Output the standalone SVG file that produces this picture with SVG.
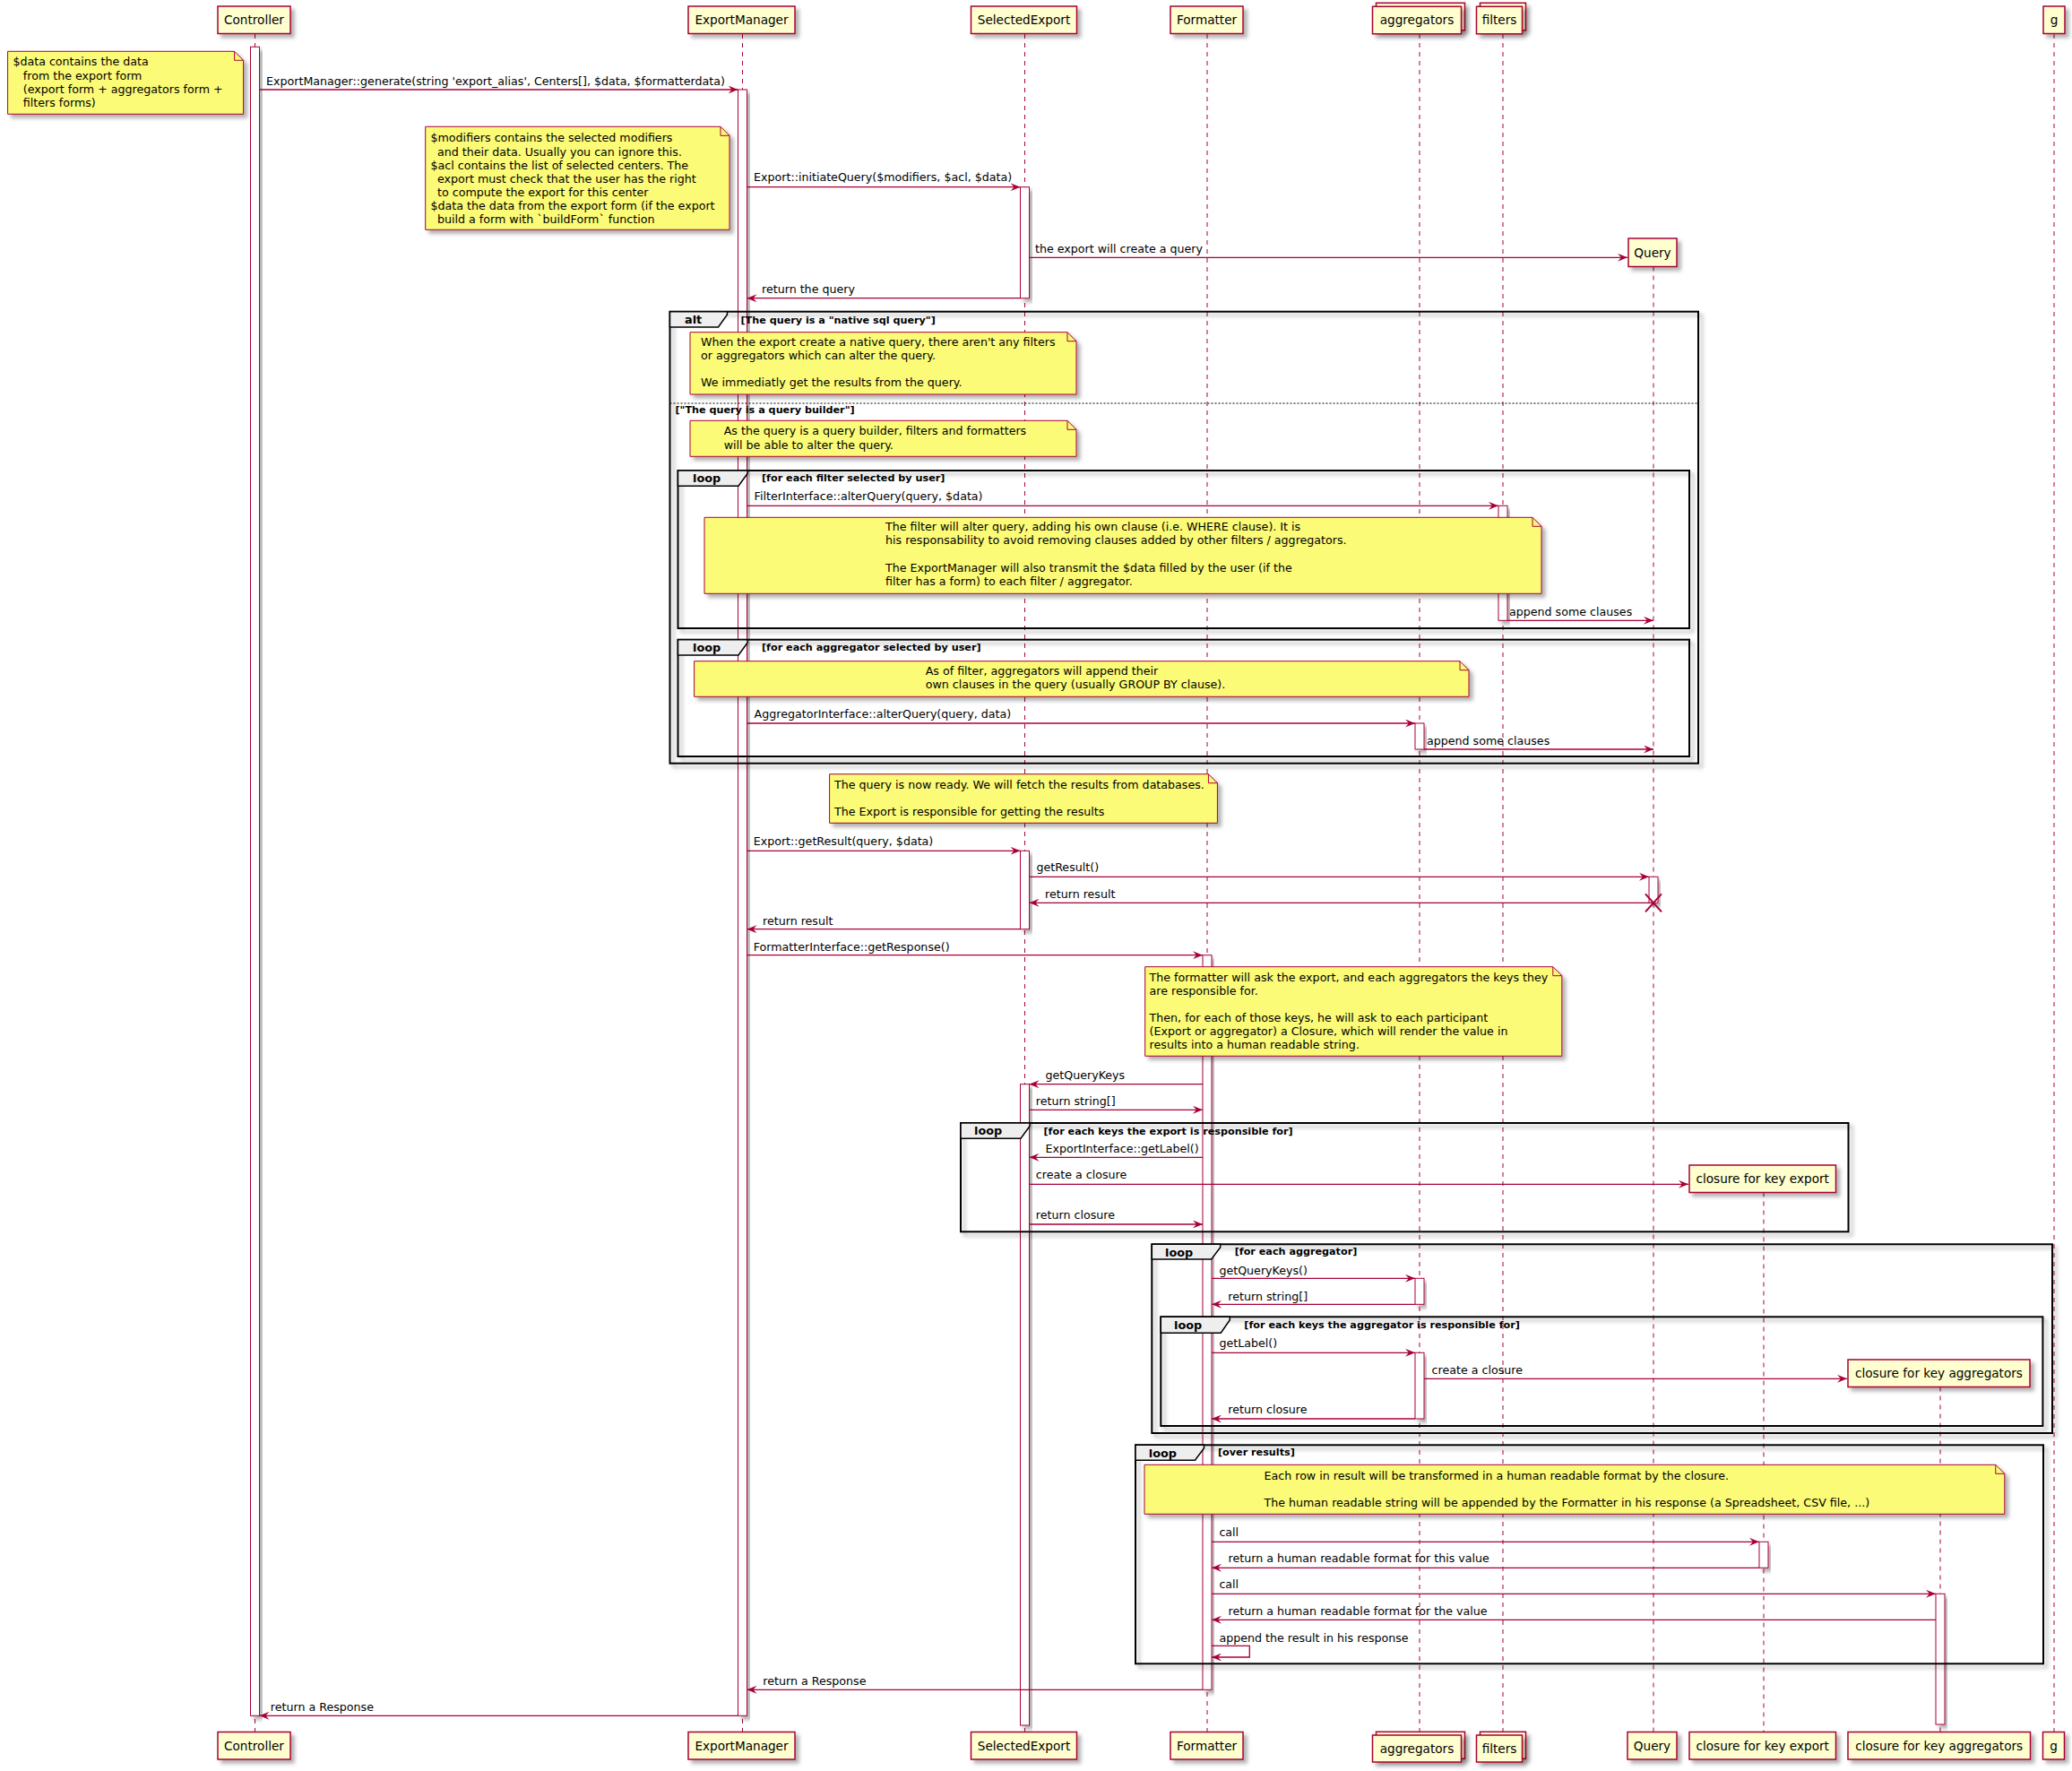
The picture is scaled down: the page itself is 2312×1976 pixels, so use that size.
<svg xmlns="http://www.w3.org/2000/svg" width="2312" height="1976" viewBox="0 0 2312 1976">
<defs>
<filter id="sh" x="-20%" y="-20%" width="150%" height="150%">
<feDropShadow dx="4" dy="4" stdDeviation="2" flood-color="#000" flood-opacity="0.3"/>
</filter>
<marker id="ah" viewBox="0 0 11 9" refX="11" refY="4.5" markerWidth="11" markerHeight="9" markerUnits="userSpaceOnUse" orient="auto">
<path d="M0,0 L11,4.5 L0,9 L4,4.5 Z" fill="#A80036"/>
</marker>
<style>
text{font-family:"DejaVu Sans","Liberation Sans",sans-serif;fill:#000}
.p{fill:#FEFECE;stroke:#A80036;stroke-width:1.5;filter:url(#sh)}
.pt{font-size:13.6px;text-anchor:middle}
.ll{stroke:#A80036;stroke-width:1;stroke-dasharray:5,5;fill:none}
.act{fill:#fff;stroke:#A80036;stroke-width:1;filter:url(#sh)}
.note{fill:#FBFB77;stroke:#A80036;stroke-width:1;filter:url(#sh)}
.fold{fill:none;stroke:#A80036;stroke-width:1}
.nt{font-size:12.65px}
.msg{stroke:#A80036;stroke-width:1.3;fill:none;marker-end:url(#ah)}
.mt{font-size:12.65px}
.fr{fill:none;stroke:#000;stroke-width:2;filter:url(#sh)}
.tab{fill:#EEEEEE;stroke:#000;stroke-width:1.5}
.ft{font-size:12.8px;font-weight:bold}
.ct{font-size:11.2px;font-weight:bold}
.sep{stroke:#000;stroke-width:1;stroke-dasharray:2,2}
</style>
</defs>
<rect width="2312" height="1976" fill="#fff"/>

<!-- participants -->
<g id="p-controller">
<line class="ll" x1="284.5" y1="38" x2="284.5" y2="1932"/>
<rect class="p" x="243" y="7" width="81" height="30.5"/>
<text class="pt" x="283.5" y="27">Controller</text>
<rect class="p" x="243" y="1932.5" width="81" height="30.5"/>
<text class="pt" x="283.5" y="1952.5">Controller</text>
<rect class="act" x="279.5" y="52.3" width="10" height="1862"/>
</g>
<g id="p-exportmanager">
<line class="ll" x1="828.5" y1="38" x2="828.5" y2="1932"/>
<rect class="p" x="768" y="7" width="119" height="30.5"/>
<text class="pt" x="827.5" y="27">ExportManager</text>
<rect class="p" x="768" y="1932.5" width="119" height="30.5"/>
<text class="pt" x="827.5" y="1952.5">ExportManager</text>
<rect class="act" x="823.5" y="100" width="10" height="1814.3"/>
</g>
<g id="p-selectedexport">
<line class="ll" x1="1143.5" y1="38" x2="1143.5" y2="1932"/>
<rect class="p" x="1083.5" y="7" width="118" height="30.5"/>
<text class="pt" x="1142.5" y="27">SelectedExport</text>
<rect class="p" x="1083.5" y="1932.5" width="118" height="30.5"/>
<text class="pt" x="1142.5" y="1952.5">SelectedExport</text>
<rect class="act" x="1138.5" y="208.7" width="10" height="124"/>
<rect class="act" x="1138.5" y="949.3" width="10" height="87.4"/>
<rect class="act" x="1138.5" y="1209.7" width="10" height="715.3"/>
</g>
<g id="p-formatter">
<line class="ll" x1="1347" y1="38" x2="1347" y2="1932"/>
<rect class="p" x="1306" y="7" width="81" height="30.5"/>
<text class="pt" x="1346.5" y="27">Formatter</text>
<rect class="p" x="1306" y="1932.5" width="81" height="30.5"/>
<text class="pt" x="1346.5" y="1952.5">Formatter</text>
<rect class="act" x="1342" y="1065.7" width="10" height="819.6"/>
</g>
<g id="p-aggregators">
<line class="ll" x1="1584" y1="38" x2="1584" y2="1932"/>
<rect class="p" x="1535.5" y="3.3" width="99" height="30.5"/>
<rect class="p" x="1531.5" y="7.3" width="99" height="30.5"/>
<text class="pt" x="1581" y="27.3">aggregators</text>
<rect class="p" x="1535.5" y="1932.3" width="99" height="30"/>
<rect class="p" x="1531.5" y="1936" width="99" height="30"/>
<text class="pt" x="1581" y="1955.5">aggregators</text>
<rect class="act" x="1579" y="807" width="10" height="29"/>
<rect class="act" x="1579" y="1426.3" width="10" height="29"/>
<rect class="act" x="1579" y="1509.3" width="10" height="73.7"/>
</g>
<g id="p-filters">
<line class="ll" x1="1677" y1="38" x2="1677" y2="1932"/>
<rect class="p" x="1651.5" y="3.3" width="51" height="30.5"/>
<rect class="p" x="1647.5" y="7.3" width="51" height="30.5"/>
<text class="pt" x="1673" y="27.3">filters</text>
<rect class="p" x="1651.5" y="1932.3" width="51" height="30"/>
<rect class="p" x="1647.5" y="1936" width="51" height="30"/>
<text class="pt" x="1673" y="1955.5">filters</text>
<rect class="act" x="1672" y="564.3" width="10" height="128"/>
</g>
<g id="p-query">
<line class="ll" x1="1845" y1="297.5" x2="1845" y2="1932"/>
<rect class="p" x="1817" y="266" width="54" height="31.5"/>
<text class="pt" x="1844" y="286.5">Query</text>
<rect class="p" x="1816" y="1932.5" width="55" height="30.5"/>
<text class="pt" x="1843.5" y="1952.5">Query</text>
<rect class="act" x="1840" y="978.3" width="10" height="29"/>
<path d="M1836,997.3 L1854,1017.3 M1854,997.3 L1836,1017.3" stroke="#A80036" stroke-width="2" fill="none"/>
</g>
<g id="p-closure-export">
<line class="ll" x1="1968" y1="1330.5" x2="1968" y2="1932"/>
<rect class="p" x="1885" y="1300" width="163.5" height="30.5"/>
<text class="pt" x="1966.7" y="1320">closure for key export</text>
<rect class="p" x="1885" y="1932.5" width="163.5" height="30.5"/>
<text class="pt" x="1966.7" y="1952.5">closure for key export</text>
<rect class="act" x="1963" y="1720.3" width="10" height="29"/>
</g>
<g id="p-closure-aggregators">
<line class="ll" x1="2165" y1="1547.5" x2="2165" y2="1932"/>
<rect class="p" x="2062" y="1517" width="203" height="30.5"/>
<text class="pt" x="2163.5" y="1537">closure for key aggregators</text>
<rect class="p" x="2062" y="1932.5" width="203.5" height="30.5"/>
<text class="pt" x="2163.7" y="1952.5">closure for key aggregators</text>
<rect class="act" x="2160" y="1778.3" width="10" height="145.7"/>
</g>
<g id="p-g">
<line class="ll" x1="2292" y1="38" x2="2292" y2="1932"/>
<rect class="p" x="2280" y="7" width="24" height="30.5"/>
<text class="pt" x="2292" y="27">g</text>
<rect class="p" x="2279.5" y="1932.5" width="24" height="30.5"/>
<text class="pt" x="2291.5" y="1952.5">g</text>
</g>

<!-- frames -->
<g id="frame-alt">
<rect class="fr" x="747.5" y="347.7" width="1147.5" height="504"/>
<path class="tab" d="M747.5,347.7 H811.5 V351 L801.5,365 H747.5 Z"/>
<text class="ft" x="764" y="360.7">alt</text>
<text class="ct" x="826.5" y="361">[The query is a "native sql query"]</text>
<line class="sep" x1="747.5" y1="450" x2="1895" y2="450"/>
<text class="ct" x="753.5" y="460.7">["The query is a query builder"]</text>
</g>
<g id="frame-loop-filters">
<rect class="fr" x="756.5" y="525" width="1128.5" height="176"/>
<path class="tab" d="M756.5,525 H834 V528.5 L824,542.3 H756.5 Z"/>
<text class="ft" x="773" y="538.3">loop</text>
<text class="ct" x="850" y="537">[for each filter selected by user]</text>
</g>
<g id="frame-loop-aggregators">
<rect class="fr" x="756.5" y="713.7" width="1128.5" height="130.3"/>
<path class="tab" d="M756.5,713.7 H834 V717.2 L824,731 H756.5 Z"/>
<text class="ft" x="773" y="727">loop</text>
<text class="ct" x="850" y="726">[for each aggregator selected by user]</text>
</g>
<g id="frame-loop-export-keys">
<rect class="fr" x="1072" y="1253" width="990.5" height="121.3"/>
<path class="tab" d="M1072,1253 H1149 V1256.5 L1139,1270.3 H1072 Z"/>
<text class="ft" x="1087" y="1266.3">loop</text>
<text class="ct" x="1164.5" y="1265.7">[for each keys the export is responsible for]</text>
</g>
<g id="frame-loop-each-aggregator">
<rect class="fr" x="1285.3" y="1388.3" width="1004.7" height="210.7"/>
<path class="tab" d="M1285.3,1388.3 H1361.7 V1391.8 L1351.7,1405 H1285.3 Z"/>
<text class="ft" x="1300" y="1401.5">loop</text>
<text class="ct" x="1377.7" y="1400">[for each aggregator]</text>
</g>
<g id="frame-loop-agg-keys">
<rect class="fr" x="1295.3" y="1469.3" width="984.1" height="121.7"/>
<path class="tab" d="M1295.3,1469.3 H1372.3 V1472.8 L1362.3,1487.3 H1295.3 Z"/>
<text class="ft" x="1310" y="1482.8">loop</text>
<text class="ct" x="1388.3" y="1482.3">[for each keys the aggregator is responsible for]</text>
</g>
<g id="frame-loop-results">
<rect class="fr" x="1267" y="1612.3" width="1013" height="244"/>
<path class="tab" d="M1267,1612.3 H1343.5 V1615.8 L1333.5,1629.3 H1267 Z"/>
<text class="ft" x="1281.8" y="1625.6">loop</text>
<text class="ct" x="1359" y="1624.3">[over results]</text>
</g>

<!-- notes -->
<g id="note-data">
<path class="note" d="M8.6,57.3 H261.6 L271.6,67.3 V127.3 H8.6 Z"/>
<path class="fold" d="M261.6,57.3 V67.3 H271.6"/>
<text class="nt" x="14.4" y="73.3">$data contains the data</text>
<text class="nt" x="25.8" y="88.5">from the export form</text>
<text class="nt" x="25.8" y="103.8">(export form + aggregators form +</text>
<text class="nt" x="25.8" y="119">filters forms)</text>
</g>
<g id="note-modifiers">
<path class="note" d="M474.7,141.3 H804 L814,151.3 V256.3 H474.7 Z"/>
<path class="fold" d="M804,141.3 V151.3 H814"/>
<text class="nt" x="480.5" y="158.3">$modifiers contains the selected modifiers</text>
<text class="nt" x="488" y="173.5">and their data. Usually you can ignore this.</text>
<text class="nt" x="480.5" y="188.6">$acl contains the list of selected centers. The</text>
<text class="nt" x="488" y="203.8">export must check that the user has the right</text>
<text class="nt" x="488" y="219">to compute the export for this center</text>
<text class="nt" x="480.5" y="234.1">$data the data from the export form (if the export</text>
<text class="nt" x="488" y="249.3">build a form with `buildForm` function</text>
</g>
<g id="note-native">
<path class="note" d="M770,370.7 H1191 L1201,380.7 V440 H770 Z"/>
<path class="fold" d="M1191,370.7 V380.7 H1201"/>
<text class="nt" x="782" y="385.5">When the export create a native query, there aren't any filters</text>
<text class="nt" x="782" y="400.8">or aggregators which can alter the query.</text>
<text class="nt" x="782" y="431.4">We immediatly get the results from the query.</text>
</g>
<g id="note-builder">
<path class="note" d="M770,469.3 H1191 L1201,479.3 V509.3 H770 Z"/>
<path class="fold" d="M1191,469.3 V479.3 H1201"/>
<text class="nt" x="807.7" y="485.3">As the query is a query builder, filters and formatters</text>
<text class="nt" x="807.7" y="500.5">will be able to alter the query.</text>
</g>
<g id="note-filter">
<path class="note" d="M786,577.3 H1710 L1720,587.3 V662.3 H786 Z"/>
<path class="fold" d="M1710,577.3 V587.3 H1720"/>
<text class="nt" x="988" y="592">The filter will alter query, adding his own clause (i.e. WHERE clause). It is</text>
<text class="nt" x="988" y="607.3">his responsability to avoid removing clauses added by other filters / aggregators.</text>
<text class="nt" x="988" y="638">The ExportManager will also transmit the $data filled by the user (if the</text>
<text class="nt" x="988" y="653.3">filter has a form) to each filter / aggregator.</text>
</g>
<g id="note-aggregator">
<path class="note" d="M774.6,737.7 H1629 L1639,747.7 V777.3 H774.6 Z"/>
<path class="fold" d="M1629,737.7 V747.7 H1639"/>
<text class="nt" x="1032.7" y="753">As of filter, aggregators will append their</text>
<text class="nt" x="1032.7" y="768.2">own clauses in the query (usually GROUP BY clause).</text>
</g>
<g id="note-ready">
<path class="note" d="M925.6,863.7 H1348.4 L1358.4,873.7 V918.3 H925.6 Z"/>
<path class="fold" d="M1348.4,863.7 V873.7 H1358.4"/>
<text class="nt" x="931" y="880">The query is now ready. We will fetch the results from databases.</text>
<text class="nt" x="931" y="910">The Export is responsible for getting the results</text>
</g>
<g id="note-formatter">
<path class="note" d="M1277.7,1078.7 H1732.8 L1742.8,1088.7 V1178.3 H1277.7 Z"/>
<path class="fold" d="M1732.8,1078.7 V1088.7 H1742.8"/>
<text class="nt" x="1282.6" y="1095">The formatter will ask the export, and each aggregators the keys they</text>
<text class="nt" x="1282.6" y="1110">are responsible for.</text>
<text class="nt" x="1282.6" y="1140">Then, for each of those keys, he will ask to each participant</text>
<text class="nt" x="1282.6" y="1155">(Export or aggregator) a Closure, which will render the value in</text>
<text class="nt" x="1282.6" y="1170">results into a human readable string.</text>
</g>
<g id="note-results">
<path class="note" d="M1277,1634.3 H2226.8 L2236.8,1644.3 V1689.3 H1277 Z"/>
<path class="fold" d="M2226.8,1634.3 V1644.3 H2236.8"/>
<text class="nt" x="1410.5" y="1651">Each row in result will be transformed in a human readable format by the closure.</text>
<text class="nt" x="1410.5" y="1681">The human readable string will be appended by the Formatter in his response (a Spreadsheet, CSV file, ...)</text>
</g>

<!-- connectors -->
<g id="connectors">
<line class="msg" x1="289.5" y1="100" x2="823.5" y2="100"/>
<text class="mt" x="297" y="95">ExportManager::generate(string 'export_alias', Centers[], $data, $formatterdata)</text>
<line class="msg" x1="833.5" y1="208.7" x2="1138.5" y2="208.7"/>
<text class="mt" x="841" y="202">Export::initiateQuery($modifiers, $acl, $data)</text>
<line class="msg" x1="1148.5" y1="287.3" x2="1816" y2="287.3"/>
<text class="mt" x="1155" y="281.5">the export will create a query</text>
<line class="msg" x1="1138.5" y1="332.7" x2="833.5" y2="332.7"/>
<text class="mt" x="850" y="327">return the query</text>
<line class="msg" x1="833.5" y1="564.3" x2="1672" y2="564.3"/>
<text class="mt" x="841.6" y="558">FilterInterface::alterQuery(query, $data)</text>
<line class="msg" x1="1682" y1="692.3" x2="1845" y2="692.3"/>
<text class="mt" x="1684" y="686.5">append some clauses</text>
<line class="msg" x1="833.5" y1="807" x2="1579" y2="807"/>
<text class="mt" x="841.6" y="800.5">AggregatorInterface::alterQuery(query, data)</text>
<line class="msg" x1="1589" y1="836" x2="1845" y2="836"/>
<text class="mt" x="1592" y="830.5">append some clauses</text>
<line class="msg" x1="833.5" y1="949.3" x2="1138.5" y2="949.3"/>
<text class="mt" x="840.7" y="943.3">Export::getResult(query, $data)</text>
<line class="msg" x1="1148.5" y1="978.3" x2="1840" y2="978.3"/>
<text class="mt" x="1156.4" y="972.3">getResult()</text>
<line class="msg" x1="1845" y1="1007.3" x2="1148.5" y2="1007.3"/>
<text class="mt" x="1166" y="1001.7">return result</text>
<line class="msg" x1="1138.5" y1="1036.7" x2="833.5" y2="1036.7"/>
<text class="mt" x="851" y="1031.7">return result</text>
<line class="msg" x1="833.5" y1="1065.7" x2="1342" y2="1065.7"/>
<text class="mt" x="840.7" y="1060.7">FormatterInterface::getResponse()</text>
<line class="msg" x1="1342" y1="1209.7" x2="1148.5" y2="1209.7"/>
<text class="mt" x="1166.5" y="1204.3">getQueryKeys</text>
<line class="msg" x1="1148.5" y1="1238.3" x2="1342" y2="1238.3"/>
<text class="mt" x="1155.8" y="1233.3">return string[]</text>
<line class="msg" x1="1342" y1="1291.3" x2="1148.5" y2="1291.3"/>
<text class="mt" x="1166.5" y="1286">ExportInterface::getLabel()</text>
<line class="msg" x1="1148.5" y1="1321.3" x2="1884" y2="1321.3"/>
<text class="mt" x="1155.8" y="1315">create a closure</text>
<line class="msg" x1="1148.5" y1="1366" x2="1342" y2="1366"/>
<text class="mt" x="1155.8" y="1360">return closure</text>
<line class="msg" x1="1352" y1="1426.3" x2="1579" y2="1426.3"/>
<text class="mt" x="1360.4" y="1421.7">getQueryKeys()</text>
<line class="msg" x1="1579" y1="1455.3" x2="1352" y2="1455.3"/>
<text class="mt" x="1370.3" y="1450.7">return string[]</text>
<line class="msg" x1="1352" y1="1509.3" x2="1579" y2="1509.3"/>
<text class="mt" x="1360.4" y="1503.3">getLabel()</text>
<line class="msg" x1="1589" y1="1538.3" x2="2061" y2="1538.3"/>
<text class="mt" x="1597.6" y="1532.7">create a closure</text>
<line class="msg" x1="1579" y1="1583" x2="1352" y2="1583"/>
<text class="mt" x="1370.3" y="1577.3">return closure</text>
<line class="msg" x1="1352" y1="1720.3" x2="1963" y2="1720.3"/>
<text class="mt" x="1360.4" y="1714.3">call</text>
<line class="msg" x1="1963" y1="1749.3" x2="1352" y2="1749.3"/>
<text class="mt" x="1370.6" y="1743.3">return a human readable format for this value</text>
<line class="msg" x1="1352" y1="1778.3" x2="2160" y2="1778.3"/>
<text class="mt" x="1360.4" y="1772.3">call</text>
<line class="msg" x1="2160" y1="1807.3" x2="1352" y2="1807.3"/>
<text class="mt" x="1370.6" y="1802.3">return a human readable format for the value</text>
<path class="msg" d="M1352,1836.3 H1394.3 V1849 H1352"/>
<text class="mt" x="1360.4" y="1831.7">append the result in his response</text>
<line class="msg" x1="1342" y1="1885.3" x2="833.5" y2="1885.3"/>
<text class="mt" x="851.3" y="1880">return a Response</text>
<line class="msg" x1="823.5" y1="1914.3" x2="289.5" y2="1914.3"/>
<text class="mt" x="301.8" y="1909">return a Response</text>
</g>
</svg>
